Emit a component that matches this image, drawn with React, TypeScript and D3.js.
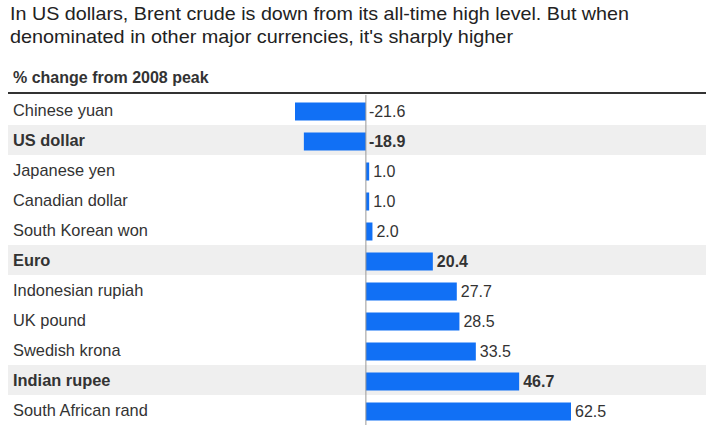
import React from "react";
import * as d3 from "d3";

const categories = [
  "Chinese yuan",
  "US dollar",
  "Japanese yen",
  "Canadian dollar",
  "South Korean won",
  "Euro",
  "Indonesian rupiah",
  "UK pound",
  "Swedish krona",
  "Indian rupee",
  "South African rand",
];
const values = [-21.6, -18.9, 1.0, 1.0, 2.0, 20.4, 27.7, 28.5, 33.5, 46.7, 62.5];
const highlighted = ["US dollar", "Euro", "Indian rupee"];
const titleLines = [
  "In US dollars, Brent crude is down from its all-time high level. But when",
  "denominated in other major currencies, it's sharply higher",
];
const titleWidths = [619, 503];
const subtitle = "% change from 2008 peak";

const W = 717;
const H = 431;
const FONT = "'Liberation Sans', Arial, Helvetica, sans-serif";

export default function App() {
  const x = d3.scaleLinear().domain([-21.6, 62.5]).range([295, 571]);
  const y = d3.scaleBand<string>().domain(categories).range([95, 425]).padding(0);
  const bw = y.bandwidth();
  const barH = 18;
  const x0 = x(0);
  return (
    <svg
      width={W}
      height={H}
      style={{ position: "absolute", left: 0, top: 0, background: "#fff" }}
      fontFamily={FONT}
    >
      {titleLines.map((t, i) => (
        <text
          key={i}
          x={10}
          y={20 + i * 22.5}
          fontSize={19}
          fill="#222"
          textLength={titleWidths[i]}
          lengthAdjust="spacingAndGlyphs"
        >
          {t}
        </text>
      ))}
      <text x={13} y={83} fontSize={16} fontWeight="bold" fill="#333">
        {subtitle}
      </text>
      <line x1={8} x2={706} y1={93} y2={93} stroke="#333" strokeWidth={2} />
      {categories.map((c, i) => {
        const hl = highlighted.includes(c);
        const v = values[i];
        const yy = y(c)!;
        const bx = Math.min(x(v), x0);
        const w = Math.abs(x(v) - x0);
        const lx = v < 0 ? x0 + 3 : x(v) + 4;
        return (
          <g key={c}>
            {hl && <rect x={8} y={yy} width={698} height={bw} fill="#efefef" />}
            <text
              x={13}
              y={yy + bw / 2 + 6}
              fontSize={16.4}
              fontWeight={hl ? "bold" : "normal"}
              fill="#333"
            >
              {c}
            </text>
            <rect x={bx} y={yy + (bw - barH) / 2 + 1.5} width={w} height={barH} fill="#1170f5" />
            <text
              x={lx}
              y={yy + bw / 2 + 6.5}
              fontSize={16}
              fontWeight={hl ? "bold" : "normal"}
              fill="#333"
            >
              {v.toFixed(1)}
            </text>
          </g>
        );
      })}
      <line x1={x0} x2={x0} y1={95} y2={425} stroke="#999" strokeWidth={1} />
    </svg>
  );
}
